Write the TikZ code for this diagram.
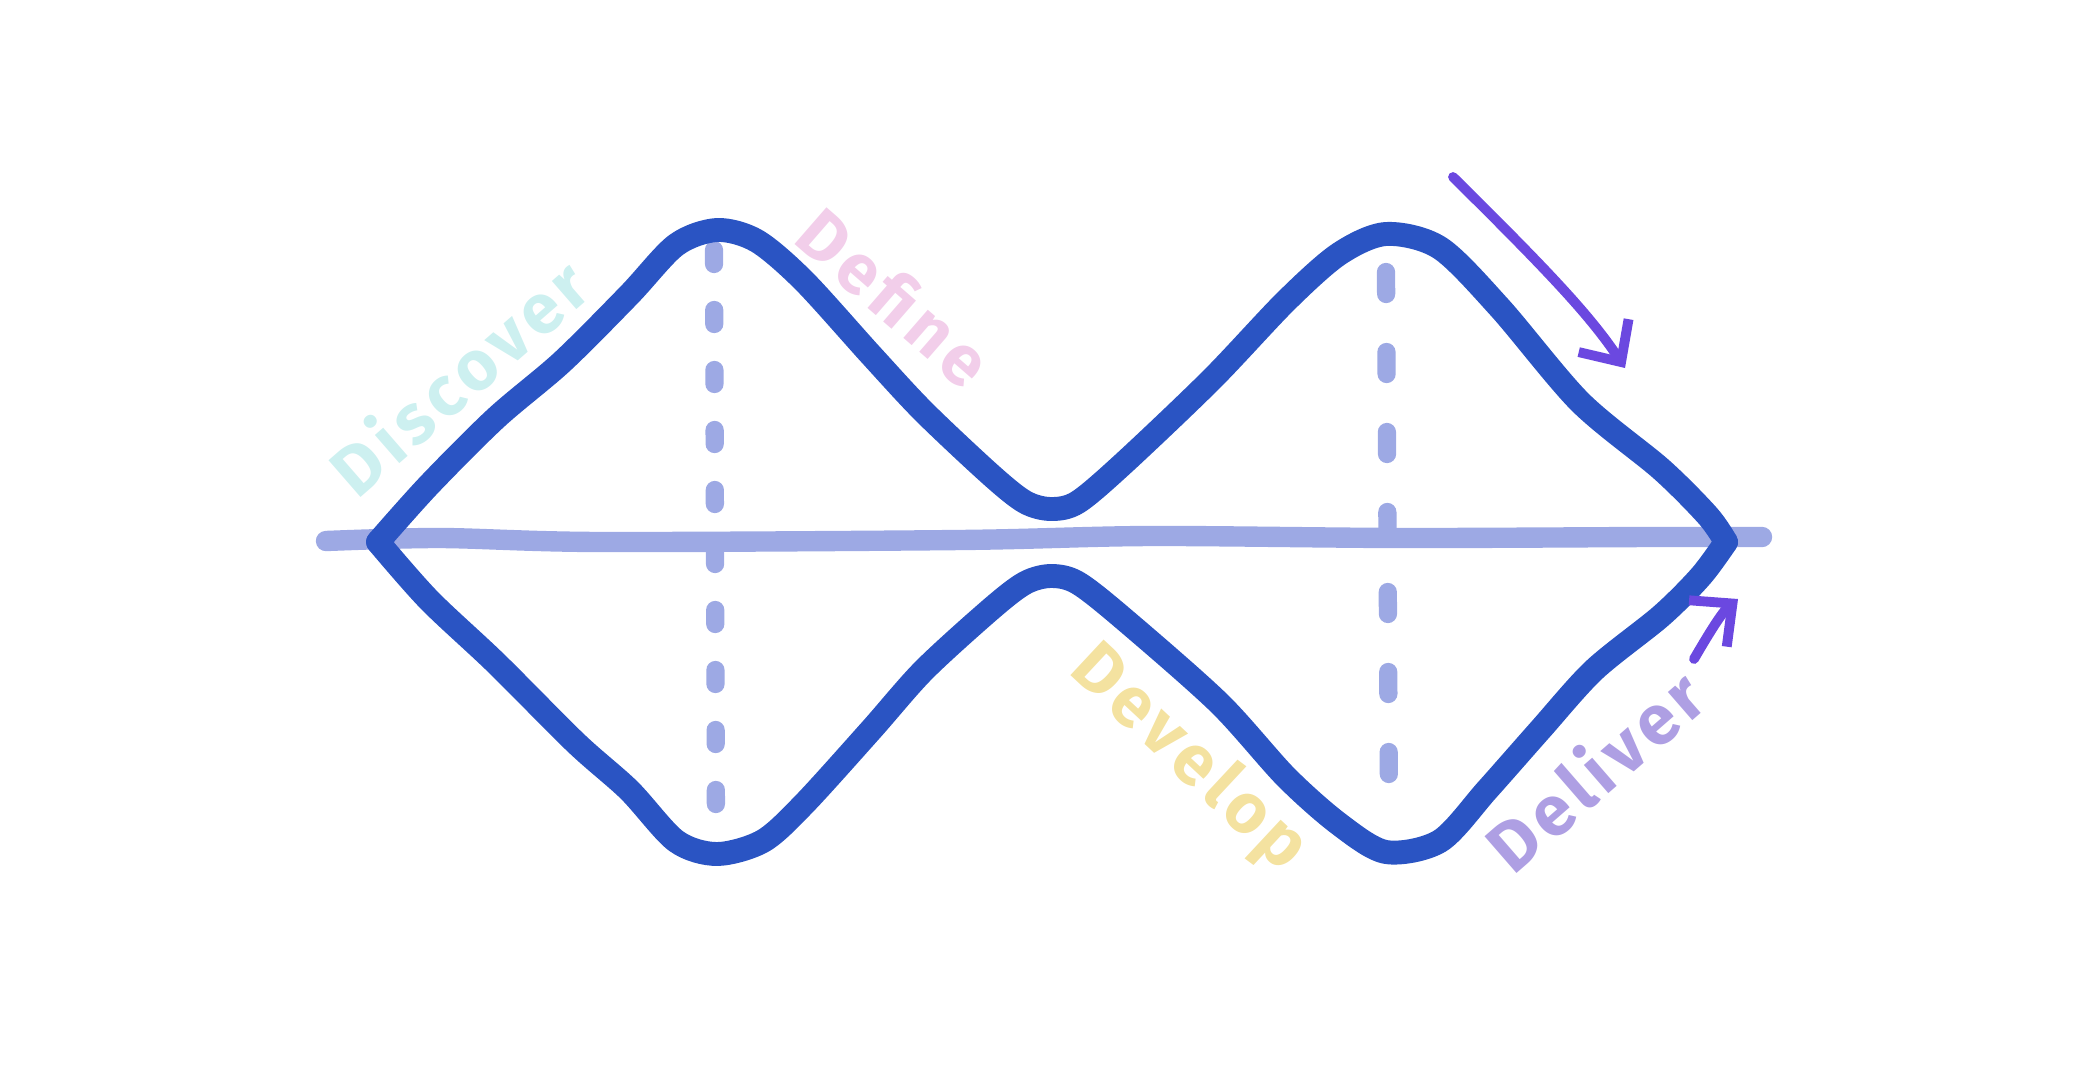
\documentclass[tikz,border=0pt]{standalone}
\usepackage{fontspec}
\setmainfont{Fira Sans}
\usetikzlibrary{arrows.meta}

\definecolor{dblue}{HTML}{2A54C3}
\definecolor{laxis}{HTML}{9DA9E4}
\definecolor{arrowc}{HTML}{6B48E0}
\definecolor{discoverc}{HTML}{CDF0F0}
\definecolor{definec}{HTML}{F2CEEA}
\definecolor{developc}{HTML}{F4E2A0}
\definecolor{deliverc}{HTML}{AE9FE3}

\begin{document}
\begin{tikzpicture}[x=0.1mm, y=-0.1mm,
  diamondline/.style={draw=dblue, line width=6.8pt, line cap=round, line join=round},
  axisline/.style={draw=laxis, line width=5.8pt, line cap=round},
  stageline/.style={draw=laxis, line width=5.2pt, line cap=round},
  flowarrow/.style={draw=arrowc, line width=2.8pt, line cap=round,
    -{Straight Barb[length=9pt, width=17pt, line width=2.8pt]}},
  stagelabel/.style={font=\fontsize{20}{24}\selectfont\bfseries\addfontfeature{LetterSpace=8},
    inner sep=0pt}]
  \useasboundingbox (0,0) rectangle (2100,1090);

  %% axis
  \draw[axisline] plot[smooth, tension=0.5] coordinates {(326,541) (440,538) (600,542)
    (960,540) (1150,536) (1400,538) (1650,537) (1762,537)};

  %% stage lines
  \draw[stageline, dash pattern=on 1.4mm off 4.6mm] (714,250) -- (716,840);
  \draw[stageline, dash pattern=on 2.2mm off 5.8mm] (1386,272) -- (1389,810);

  %% upper half
  \draw[diamondline] plot[smooth, tension=0.5] coordinates {(378,542) (429,485) (496,418)
    (562,362) (629,295) (676,245) (717,230) (757,241) (804,281) (871,355) (924,412)
    (991,475) (1025,502) (1051,509) (1078,502) (1125,462) (1212,379) (1286,301)
    (1339,254) (1386,234) (1440,248) (1500,308) (1580,402) (1661,469) (1708,516)
    (1726,542)};

  %% lower half
  \draw[diamondline] plot[smooth, tension=0.5] coordinates {(378,542) (429,600) (496,663)
    (576,743) (629,790) (676,841) (717,854) (763,841) (804,804) (871,730) (924,670)
    (991,609) (1025,583) (1051,576) (1078,583) (1125,620) (1219,703) (1286,777)
    (1339,824) (1386,852) (1440,841) (1487,790) (1540,730) (1594,670) (1661,616)
    (1701,576) (1726,542)};

  %% labels
  \node[stagelabel, text=discoverc, rotate=41] (discover) at (458,376) {Discover};
  \node[stagelabel, text=definec, rotate=-41] (define) at (895,297) {Define};
  \node[stagelabel, text=developc, rotate=-43] (develop) at (1188,759) {Develop};
  \node[stagelabel, text=deliverc, rotate=41] (deliver) at (1594,770) {Deliver};

  %% arrows
  \coordinate (inStart) at (1453,177);
  \coordinate (inEnd) at (1625,368);
  \coordinate (outStart) at (1694,659);
  \coordinate (outEnd) at (1738,599);
  \draw[flowarrow] (inStart) .. controls (1545,268) and (1590,315) .. (inEnd);
  \draw[flowarrow] (outStart) .. controls (1708,635) and (1722,612) .. (outEnd);

\end{tikzpicture}
\end{document}
